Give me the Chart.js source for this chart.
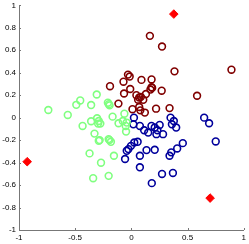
<!DOCTYPE html>
<html>
<head>
<meta charset="utf-8">
<script src="https://cdn.jsdelivr.net/npm/chart.js@4"></script>
<style>
  html, body { margin: 0; padding: 0; background: #fff; }
  #wrap { width: 249px; height: 244px; }
</style>
</head>
<body>
<div id="wrap"><canvas id="my_chart" width="249" height="244"></canvas></div>
<script>
// values
const green_x = [-0.739, -0.566, -0.49, -0.455, -0.308, -0.358, -0.434, -0.358, -0.305, -0.29, -0.276, -0.296,
    -0.209, -0.194, -0.2, -0.167, -0.114, -0.062, -0.076, -0.041, -0.05, -0.047, -0.328, -0.29, -0.282,
    -0.202, -0.182, -0.195, -0.372, -0.27, -0.155, -0.34, -0.202];
const green_y = [0.068, 0.024, 0.114, 0.153, 0.206, 0.112, -0.074, -0.032, -0.006, -0.03, -0.053, -0.053,
    0.133, 0.109, 0.12, 0.009, -0.05, 0.035, -0.03, -0.044, -0.074, -0.124, -0.142, -0.206, -0.2,
    -0.191, -0.215, -0.2, -0.318, -0.401, -0.339, -0.539, -0.518];

const blue_x = [0.023, 0.018, 0.076, 0.114, 0.15, 0.179, 0.208, 0.232, 0.223, 0.252, 0.282, 0.349, 0.378,
    0.361, 0.399, 0.648, 0.692, 0.751, 0.458, 0.408, 0.355, 0.34, 0.208, 0.135, 0.056, 0.026, -0.003,
    -0.026, -0.041, -0.056, 0.076, 0.076, 0.273, 0.37, 0.182];
const blue_y = [0.0, -0.059, -0.074, -0.112, -0.133, -0.074, -0.088, -0.112, -0.147, -0.065, -0.147, 0.0, -0.03,
    -0.059, -0.088, 0.0, -0.05, -0.212, -0.227, -0.274, -0.309, -0.339, -0.286, -0.289, -0.215, -0.221, -0.251,
    -0.28, -0.295, -0.368, -0.339, -0.442, -0.501, -0.492, -0.583];

const red_x = [0.165, 0.273, 0.891, 0.384, -0.03, -0.015, -0.07, -0.19, 0.09, 0.18, 0.18, 0.17, 0.185, 0.27,
    -0.065, -0.01, 0.045, 0.07, 0.06, 0.085, 0.13, 0.106, 0.585, -0.115, 0.01, 0.07, 0.08, 0.12, 0.22, 0.34];
const red_y = [0.728, 0.633, 0.427, 0.412, 0.383, 0.366, 0.32, 0.28, 0.336, 0.34, 0.27, 0.25, 0.265, 0.24,
    0.215, 0.255, 0.2, 0.18, 0.16, 0.185, 0.21, 0.159, 0.195, 0.125, 0.075, 0.095, 0.065, 0.045, 0.08, 0.085];

const center_x = [0.378, -0.927, 0.701];
const center_y = [0.922, -0.392, -0.716];

const x_ticks = [-1, -0.5, 0, 0.5, 1];
const y_ticks = [-1, -0.8, -0.6, -0.4, -0.2, 0, 0.2, 0.4, 0.6, 0.8, 1];

function to_points(xs, ys) {
    return xs.map((x, i) => { return {x: x, y: ys[i]}; });
}

function ring(label, xs, ys, color) {
    return {
        label: label,
        data: to_points(xs, ys),
        pointStyle: 'circle',
        pointRadius: 3.4,
        pointBorderWidth: 1.6,
        pointBackgroundColor: 'rgba(0,0,0,0)',
        pointBorderColor: color,
        pointHoverRadius: 3.4
    };
}

// small inward tick marks like the original axes
const inward_ticks = {
    id: 'inward_ticks',
    afterDraw(chart) {
        const ctx = chart.ctx;
        const xs = chart.scales.x;
        const ys = chart.scales.y;
        ctx.save();
        ctx.strokeStyle = '#777';
        ctx.lineWidth = 1;
        ctx.beginPath();
        x_ticks.forEach((v) => {
            const px = Math.round(xs.getPixelForValue(v)) + 0.5;
            ctx.moveTo(px, ys.bottom);
            ctx.lineTo(px, ys.bottom - 2);
        });
        y_ticks.forEach((v) => {
            const py = Math.round(ys.getPixelForValue(v)) + 0.5;
            ctx.moveTo(xs.left, py);
            ctx.lineTo(xs.left + 2, py);
        });
        ctx.stroke();
        ctx.restore();
    }
};

const canvas = document.getElementById('my_chart');

let chart = new Chart(canvas, {
    type: 'scatter',
    data: {
        datasets: [
            ring('green', green_x, green_y, '#80ff80'),
            ring('blue', blue_x, blue_y, '#00009c'),
            ring('red', red_x, red_y, '#800000'),
            {
                label: 'centers',
                data: to_points(center_x, center_y),
                pointStyle: 'rectRot',
                pointRadius: 4.3,
                pointHoverRadius: 4.3,
                pointBorderWidth: 1,
                pointBackgroundColor: '#ff0000',
                pointBorderColor: '#ff0000'
            }
        ]
    },
    options: {
        responsive: false,
        animation: false,
        events: [],
        layout: { padding: 0 },
        plugins: {
            legend: { display: false },
            tooltip: { enabled: false }
        },
        scales: {
            x: {
                type: 'linear',
                min: -1,
                max: 1,
                afterBuildTicks: (scale) => { scale.ticks = x_ticks.map(v => ({value: v})); },
                afterFit: (scale) => {
                    scale.height = 14;
                    scale.paddingRight = 2.5;
                    scale.paddingLeft = 0;
                },
                grid: { display: false, drawTicks: false },
                border: { display: true, color: '#777', width: 1 },
                ticks: {
                    padding: 3,
                    color: '#000',
                    maxRotation: 0,
                    font: { family: 'Liberation Sans', size: 8 },
                    callback: (v) => String(v)
                }
            },
            y: {
                type: 'linear',
                min: -1,
                max: 1,
                afterBuildTicks: (scale) => { scale.ticks = y_ticks.map(v => ({value: v})); },
                afterFit: (scale) => {
                    scale.width = 19;
                    scale.paddingTop = 3.7;
                    scale.paddingBottom = 0;
                },
                grid: { display: false, drawTicks: false },
                border: { display: true, color: '#777', width: 1 },
                ticks: {
                    padding: 3,
                    color: '#000',
                    font: { family: 'Liberation Sans', size: 8 },
                    callback: (v) => String(Math.round(v * 10) / 10)
                }
            }
        }
    },
    plugins: [inward_ticks]
});
</script>
</body>
</html>
